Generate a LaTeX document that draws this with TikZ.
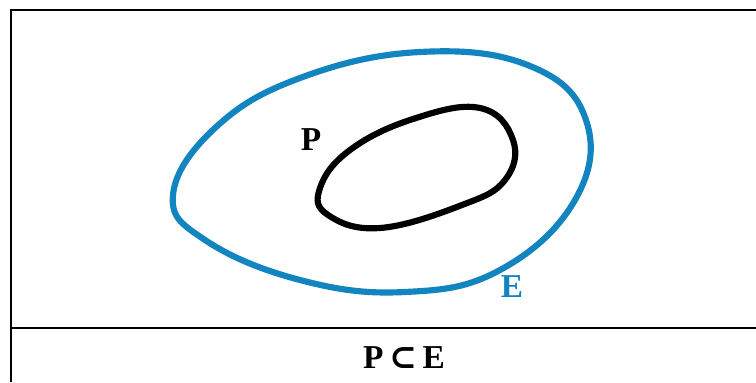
\documentclass[tikz,border=0pt]{standalone}
\usepackage{fontspec}
\setmainfont{Liberation Serif}
\newfontfamily\symfont{DejaVu Serif}
\definecolor{setblue}{RGB}{18,132,192}
\tikzset{setlabel/.style={font=\bfseries\fontsize{19}{22}\selectfont}}
\begin{document}
\begin{tikzpicture}[x=0.02cm,y=-0.02cm]
\useasboundingbox (0,0) rectangle (756,382);
\draw[line width=1.6pt] (11,382) -- (11,10) -- (756,10);
\draw[line width=1.6pt] (11,328) -- (756,328);
\draw[setblue,line width=3.5pt] plot[smooth cycle,tension=0.7] coordinates {(173,195) (215,128) (300,78) (420,52) (530,66) (586,120) (575,200) (500,270) (405,292) (300,280) (205,240)};
\draw[line width=3.5pt] plot[smooth cycle,tension=0.7] coordinates {(320,188) (350,150) (413,119) (480,108) (513,140) (505,180) (462,205) (380,228) (328,215)};
\node[setlabel] (labelP) at (311,140) {P};
\node[setlabel,text=setblue] (labelE) at (512,287) {E};
\node[setlabel] (relation) at (404,358) {P\,{\symfont\bfseries ⊂}\,E};
\end{tikzpicture}
\end{document}
